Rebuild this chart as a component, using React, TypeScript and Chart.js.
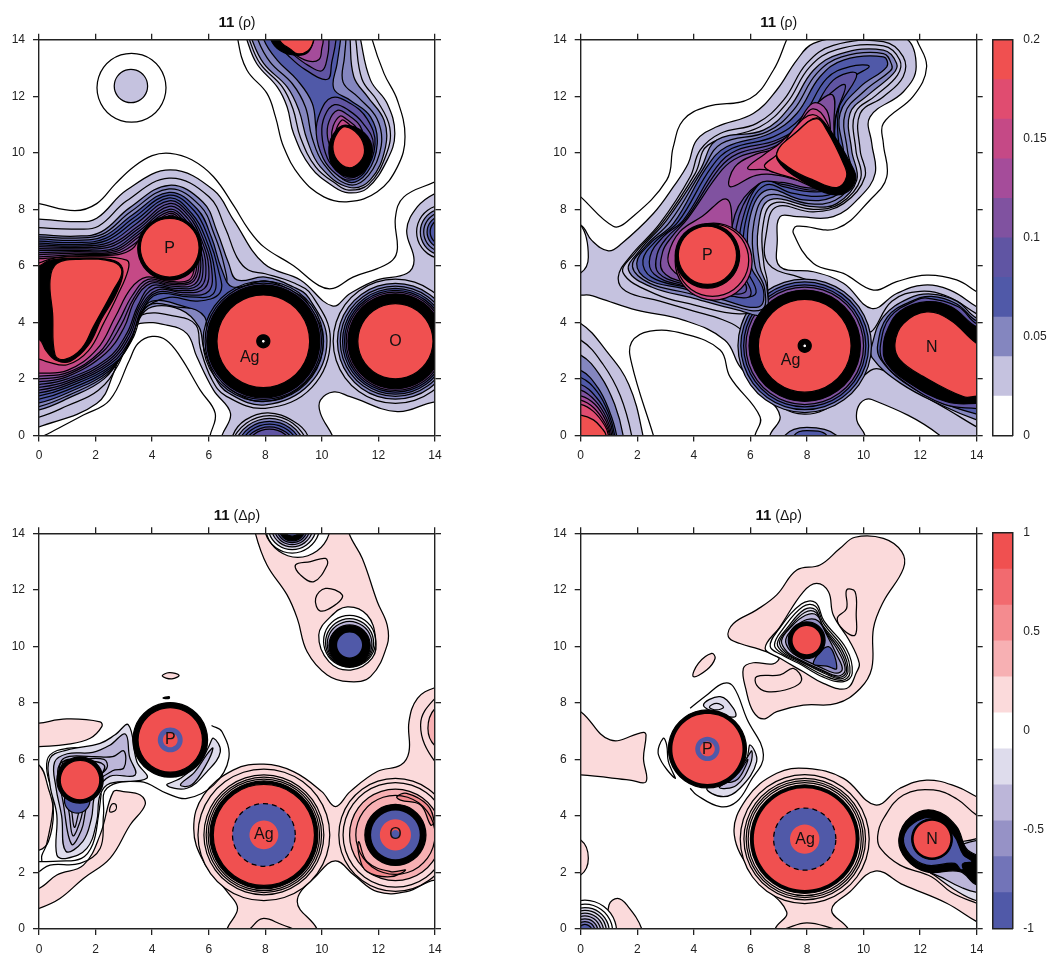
import React, { useEffect, useRef } from "react";
import { Chart, registerables } from "chart.js";
Chart.register(...registerables);

// Tick values and colour-bar bands
const axisTicks = [0, 2, 4, 6, 8, 10, 12, 14];
const rhoEdges = [0, 0.02, 0.04, 0.06, 0.08, 0.1, 0.12, 0.14, 0.16, 0.18, 0.2];
const rhoColors = ["#ffffff", "#c5c2df", "#8486bf", "#5059a8", "#6055a3", "#8052a0", "#a54c9a", "#c54986", "#e04c70", "#f05050"];
const deltaEdges = [-1, -0.818, -0.636, -0.455, -0.273, -0.091, 0.091, 0.273, 0.455, 0.636, 0.818, 1];
const deltaColors = ["#5059a8", "#7274b8", "#9692c6", "#bcb6d9", "#dedcec", "#ffffff", "#fbdadb", "#f7b0b3", "#f48b8f", "#f26a6f", "#f05050"];
const rhoTicks = [0, 0.05, 0.1, 0.15, 0.2];
const deltaTicks = [-1, -0.5, 0, 0.5, 1];

// Palette indexes used by the outlines
const K = 10, N1 = 11, N2 = 12, N3 = 13, N4 = 14, N5 = 15, R1 = 16, R2 = 17, R3 = 18, R5 = 20;
const LINE = -1, OPEN = -2;
const BARE = 0, DASH = 2; // ring stroke modes
const palette = [...rhoColors, "#000000", "#dedcec", "#bcb6d9", "#9692c6", "#7274b8", "#5059a8", "#fbdadb", "#f7b0b3", "#f48b8f", "#f26a6f", "#f05050"];

/* ---------- Panel A: rho, P / Ag / O ---------- */
const aLineTop = [0,8.2, 1.27,7.95, 2.04,8.2, 2.7,8.9, 3.34,9.5, 4,9.9, 4.64,9.98, 5.4,9.75, 6.17,9.15, 6.9,8.1, 7.4,7.3, 7.95,6.67, 9,6, 9.9,5.3, 10.4,5.2, 11.1,5.6, 11.96,5.9, 12.5,6.2, 12.67,6.6, 12.6,7.7, 12.9,8.44, 14,8.97];
const aLineHole = [0.2,0, 1.57,0.72, 2.5,1.25, 3.2,2.67, 3.5,3.25, 4,3.5, 4.5,3.37, 5,2.78, 5.7,1.6, 6.23,0.78, 6.05,0];
const aLilac = [0,7.65, 1.33,7.56, 2.04,7.68, 3.1,8.68, 4.64,9.39, 6.17,8.68, 6.88,7.62, 7.95,6.08, 9.24,5.5, 10.37,4.58, 11,5.02, 11.96,5.5, 13,5.73, 13.26,6.2, 13,7.26, 13.38,8.09, 14,8.56, 14.6,8.7, 14.6,1.1, 14,1.19, 12.67,0.84, 11,1.37, 10.43,1.54, 9.95,1.25, 9.95,0.78, 10.37,0, 10.6,-0.6, 6.3,-0.6, 6.47,0, 6.77,0.78, 6.17,1.6, 5.58,2.78, 5.23,3.6, 4.52,3.9, 3.58,3.96, 3.1,3.6, 2.63,2.19, 2.04,1.13, 0,0.3, -0.6,0.2, -0.6,7.65];
const aRidge1 = [-0.6,7.4, 0,7.35, 1.3,7.3, 2.1,7.4, 3.1,8.3, 4.6,9.1, 6,8.45, 6.6,7.3, 7,6.3, 7.4,5.85, 8,5.72, 9,5.4, 9.65,4.95, 10.3,3.4, 9.65,1.7, 8,0.96, 6.6,1.4, 6.1,2, 5.7,3.1, 5.55,3.9, 4.9,4.2, 3.6,4.25, 3.2,3.5, 2.8,2.5, 2.1,1.6, 1,1.05, 0,0.65, -0.6,0.65];
const aRidge2 = [-0.6,7.1, 0,7.1, 1.3,7.05, 2.2,7.2, 3.2,8.05, 4.6,8.85, 5.8,8.25, 6.3,7.2, 6.7,6.1, 7,5.5, 8,5.6, 9,5.25, 9.55,4.85, 10.18,3.35, 9.55,1.8, 8,1.08, 6.7,1.5, 6.2,2.1, 5.82,3.1, 5.65,3.85, 5,4.45, 4,4.55, 3.5,4.05, 3,3, 2.3,2, 1,1.3, 0,0.9, -0.6,0.9];
const aRidge2b = [-0.6,7.02, 0,7.02, 1.3,6.98, 2.25,7.12, 3.25,7.92, 4.6,8.72, 5.7,8.12, 6.2,7.1, 6.55,6, 6.6,5.25, 6,4.55, 5,4.53, 4,4.65, 3.55,4.18, 3.1,3.15, 2.4,2.15, 1,1.4, 0,1.02, -0.6,1.02];
const aRidge3 = [-0.6,6.95, 0,6.95, 1.3,6.9, 2.3,7.05, 3.3,7.8, 4.6,8.6, 5.6,8, 6.1,7, 6.45,5.9, 6.85,5.25, 8,5.47, 8.95,5.1, 9.45,4.75, 10.05,3.33, 9.45,1.9, 8,1.2, 6.8,1.6, 6.3,2.2, 5.95,3.2, 5.85,4.2, 5,4.6, 4,4.75, 3.6,4.3, 3.2,3.3, 2.5,2.3, 1,1.5, 0,1.15, -0.6,1.15];
const aRidge3b = [-0.6,6.87, 0,6.87, 1.3,6.82, 2.35,6.97, 3.35,7.7, 4.6,8.5, 5.5,7.93, 6,6.97, 6.33,5.9, 6.4,5.05, 5.6,4.75, 4.6,4.88, 3.65,4.4, 3.25,3.35, 2.55,2.4, 1,1.6, 0,1.28, -0.6,1.28];
const aRidge4 = [-0.6,6.8, 0,6.8, 1.3,6.75, 2.4,6.9, 3.4,7.6, 4.6,8.4, 5.4,7.85, 5.9,6.95, 6.2,5.9, 6.15,5, 5.3,4.9, 4.2,5, 3.7,4.5, 3.3,3.4, 2.6,2.5, 1,1.7, 0,1.4, -0.6,1.4];
const aRidge4b = [-0.6,6.74, 0,6.74, 1.3,6.7, 2.45,6.82, 3.45,7.5, 4.6,8.3, 5.35,7.8, 5.82,6.92, 6.1,5.92, 6,5.1, 5.2,4.97, 4.2,5.07, 3.65,4.52, 3.25,3.45, 2.55,2.55, 1,1.78, 0,1.5, -0.6,1.5];
const aRidge5 = [-0.6,6.68, 0,6.68, 1.3,6.65, 2.5,6.75, 3.5,7.4, 4.6,8.2, 5.3,7.75, 5.75,6.9, 6,5.95, 5.85,5.2, 5.1,5.05, 4.2,5.15, 3.6,4.55, 3.2,3.5, 2.5,2.6, 1,1.85, 0,1.6, -0.6,1.6];
const aRidge5b = [-0.6,6.61, 0,6.61, 1.3,6.6, 2.55,6.68, 3.5,7.3, 4.6,8.1, 5.25,7.68, 5.68,6.88, 5.9,5.98, 5.72,5.25, 4.95,5.12, 4.1,5.22, 3.55,4.58, 3.15,3.55, 2.45,2.65, 1,1.92, 0,1.7, -0.6,1.7];
const aRidge6 = [-0.6,6.55, 0,6.55, 1.3,6.55, 2.6,6.6, 3.5,7.2, 4.6,8, 5.2,7.6, 5.6,6.85, 5.8,6, 5.6,5.3, 4.8,5.2, 4,5.3, 3.5,4.6, 3.1,3.6, 2.4,2.7, 1,2, 0,1.8, -0.6,1.8];
const aRidge6b = [-0.6,6.47, 0,6.47, 1.3,6.5, 2.65,6.55, 3.5,7.1, 4.6,7.92, 5.15,7.55, 5.55,6.82, 5.72,6, 5.5,5.35, 4.7,5.28, 3.95,5.38, 3.4,4.8, 3,3.8, 2.35,2.9, 1,2.08, 0,1.9, -0.6,1.9];
const aRidge7 = [-0.6,6.4, 0,6.4, 1.3,6.45, 2.7,6.5, 3.5,7, 4.6,7.85, 5.1,7.5, 5.5,6.8, 5.65,6, 5.4,5.4, 4.6,5.35, 3.9,5.45, 3.35,4.85, 2.9,3.9, 2.25,2.95, 1,2.15, 0,2, -0.6,2];
const aRidge7b = [-0.6,6.32, 0,6.32, 1.3,6.4, 2.75,6.45, 3.4,6.8, 4.6,7.78, 5.05,7.48, 5.45,6.8, 5.58,6, 5.35,5.45, 4.6,5.4, 3.85,5.52, 3.3,4.95, 2.8,4, 2.15,2.95, 1,2.22, 0,2.1, -0.6,2.1];
const aRidge8 = [-0.6,6.25, 0,6.25, 1.3,6.35, 2.8,6.4, 3.3,6.6, 3.6,7, 4.6,7.7, 5,7.45, 5.4,6.8, 5.5,6, 5.3,5.5, 4.6,5.45, 3.8,5.6, 3.25,5.2, 2.7,4.2, 2.05,3.05, 1,2.3, 0,2.2, -0.6,2.2];
const aRidge9 = [-0.6,5.9, 0,6.1, 0.6,6.28, 1.8,6.32, 3.1,6.2, 3.15,5.85, 2.75,4.9, 2.3,4, 1.75,3, 1,2.5, 0.3,2.6, 0,2.7, -0.6,2.7];
const aBlobDark = [-0.6,5.9, 0,6, 0.4,6.2, 1.5,6.27, 2.7,6.17, 2.97,5.8, 2.72,5, 2.2,4.1, 1.75,3.2, 1.1,2.62, 0.6,2.66, 0.25,3, 0,3.4, -0.6,3.4];
const aBlobRed = [0.39,5.5, 0.63,6.08, 1.45,6.23, 2.63,6.14, 2.93,5.79, 2.63,5.14, 1.92,3.84, 1.51,3.08, 0.92,2.69, 0.57,2.84, 0.48,4.32];
const aFunnelLine = [7.03,14.6, 7.03,14, 7.35,12.93, 8.06,12.1, 8.36,11.27, 8.65,10.2, 9.24,9.15, 10.07,8.44, 10.95,8.27, 11.96,8.62, 12.67,9.5, 12.94,10.57, 12.67,11.86, 12.2,12.8, 11.78,14, 11.7,14.6];
const aFunnel1 = [7.2,14.6, 7.35,14, 7.7,13.15, 8.42,12.33, 8.77,11.63, 9,10.68, 9.6,9.5, 10.42,8.8, 10.95,8.58, 11.6,8.74, 12.31,9.74, 12.58,10.68, 12.31,11.74, 11.72,12.57, 11.37,14, 11.3,14.6];
const aFunnel1b = [7.3,14.6, 7.44,14, 7.82,13.15, 8.6,12.33, 8.98,11.55, 9.24,10.55, 9.78,9.5, 10.5,8.9, 10.95,8.68, 11.65,8.88, 12.28,9.95, 12.4,10.9, 11.95,11.85, 11.42,12.6, 11.2,14, 11.15,14.6];
const aFunnel2 = [7.4,14.6, 7.53,14, 7.95,13.15, 8.77,12.33, 9.19,11.5, 9.48,10.45, 9.95,9.5, 10.95,8.78, 11.72,9.05, 12.25,10.2, 12.2,11.15, 11.6,12, 11.13,12.69, 11,14, 11,14.6];
const aFunnel2b = [7.65,14.6, 7.74,14, 8.18,13.2, 8.95,12.45, 9.42,11.62, 9.65,10.55, 10.07,9.6, 10.95,8.87, 11.65,9.2, 12.1,10.25, 11.95,11.2, 11.3,11.95, 10.75,12.5, 10.8,13.4, 10.85,14, 10.85,14.6];
const aFunnel3 = [7.9,14.6, 7.95,14, 8.42,13.28, 9.13,12.57, 9.66,11.75, 9.83,10.68, 10.19,9.74, 10.95,8.96, 11.6,9.3, 11.96,10.33, 11.72,11.27, 11,11.86, 10.42,12.27, 10.54,13.16, 10.66,14, 10.7,14.6];
const aBulb1 = [10.35,11.95, 9.95,11.45, 9.8,10.7, 10.05,9.8, 10.5,9.25, 10.95,9.03, 11.5,9.3, 11.88,10.3, 11.6,11.2, 11,11.75];
const aBulb2 = [10.45,11.7, 10.1,11.3, 10,10.65, 10.2,9.8, 10.6,9.3, 10.95,9.1, 11.45,9.35, 11.82,10.3, 11.45,11.05, 10.95,11.5];
const aBulb3 = [10.55,11.5, 10.25,11.1, 10.2,10.55, 10.4,10, 10.7,9.65, 10.95,9.55, 11.3,9.8, 11.5,10.3, 11.35,10.95, 10.9,11.35];
const aBulb4 = [10.65,11.3, 10.4,10.95, 10.35,10.5, 10.5,10, 10.8,9.7, 10.95,9.65, 11.25,9.85, 11.4,10.3, 11.25,10.85, 10.85,11.2];
const aBulb5 = [10.7,11.15, 10.5,10.8, 10.45,10.4, 10.6,10, 10.95,9.7, 11.25,9.9, 11.35,10.3, 11.2,10.75, 10.85,11.1];
const aBulbDark = [10.84,10.98, 10.47,10.75, 10.25,10.2, 10.4,9.5, 10.95,9.15, 11.5,9.35, 11.78,10.1, 11.5,10.7];
const aBulbRed = [10.84,10.92, 10.55,10.7, 10.39,10.21, 10.54,9.74, 10.95,9.47, 11.35,9.68, 11.51,10.1, 11.31,10.62];
const aTop1 = [8.2,14.6, 8.3,14, 8.8,13.45, 9.4,12.95, 10.2,12.6, 10.35,13.2, 10.5,14, 10.5,14.6];
const aTop2 = [8.3,14.6, 8.4,14, 8.9,13.55, 9.5,13.1, 10,12.9, 10.2,13.4, 10.25,14, 10.2,14.6];
const aTop3 = [8.4,14.6, 8.45,14, 8.95,13.55, 9.5,13.25, 9.9,13.3, 10,13.7, 10.05,14, 10,14.6];
const aTopDark = [8.15,14.6, 8.2,14, 8.55,13.6, 9.1,13.45, 9.5,13.55, 9.72,14, 9.78,14.6];
const aTopRed = [8.45,14.6, 8.5,14, 8.9,13.65, 9.15,13.5, 9.5,13.6, 9.7,13.95, 9.75,14.6];
const aFloor1 = [6.85,-0.6, 6.85,0, 7.3,0.55, 8.1,0.8, 9,0.5, 9.5,0, 9.5,-0.6];
const aFloorRings = [[8.15,-0.7,1.4,LINE],[8.15,-0.7,1.3,2],[8.15,-0.7,1.2,3],[8.15,-0.7,1.1,3],[8.15,-0.7,1,4],[8.15,-0.7,0.92,4]];
const aIslandRings = [[3.27,12.3,1.22,LINE],[3.25,12.36,0.59,1]];
const aEdgeRings = [[14.3,7.2,0.95,LINE],[14.3,7.2,0.82,2],[14.3,7.2,0.7,LINE],[14.3,7.2,0.58,3],[14.3,7.2,0.47,LINE]];
const aAgRings = [[7.93,3.33,2.13,LINE],[7.93,3.33,2.06,4],[7.93,3.33,2,K],[7.93,3.33,1.64,9],[7.93,3.33,0.23,K],[7.93,3.33,0.07,0]];
const aORings = [[12.6,3.33,2.2,LINE],[12.6,3.33,2.05,2],[12.6,3.33,1.95,LINE],[12.6,3.33,1.87,3],[12.6,3.33,1.8,4],[12.6,3.33,1.74,5],[12.6,3.33,1.68,K],[12.6,3.33,1.33,9]];
const aPRings = [[4.62,6.62,1.13,K],[4.62,6.64,1.04,9]];

/* ---------- Panel B: rho, P / Ag / N ---------- */
const bLineLeft = [0,8.44, 1.15,7.4, 1.63,7.56, 3.04,9.03, 3.27,10.2, 3.63,11.16, 4.46,11.63, 5.99,11.92, 6.81,12.92, 7.28,14];
const bLineRight = [11.88,14, 12.23,13.04, 11.76,12, 10.7,11.04, 10.7,10.33, 10.82,9.15, 10.23,8.33, 9.05,7.32, 7.64,7.4, 7.52,7.15, 8.23,6.08, 9.29,5.73, 10.35,5.14, 11.17,5.44, 12.23,5.67, 13.29,5.5, 14,5.08];
const bLineHole = [6.16,0, 6.34,0.66, 5.28,2.07, 4.93,3.02, 3.63,3.6, 2.45,3.69, 1.8,3.3, 1.8,2.55, 2.57,0];
const bLilac = [0,7.44, 0.39,6.9, 0.98,6.53, 1.45,6.79, 2.57,7.85, 3.28,8.8, 3.8,9.62, 4.1,10.45, 4.81,10.92, 6.1,11.39, 6.93,12.22, 7.64,13.28, 8.23,13.87, 9.52,14.1, 11.41,14.1, 11.86,13.04, 11.41,12.16, 10.23,11.27, 10.29,10.33, 10.41,9.27, 9.88,8.44, 8.93,7.74, 7.64,7.74, 7.05,7.74, 6.95,6.91, 7.05,5.97, 8.23,5.79, 9.29,5.38, 10.29,4.49, 11.17,5.02, 12.12,5.32, 13.06,5.14, 14,4.55, 14.6,4.2, 14.6,-0.6, 12.7,-0.6, 12.7,0, 10.29,1.27, 9.88,1.13, 9.76,0.54, 10.05,0, 10.05,-0.6, 6.69,-0.6, 6.69,0, 7.05,0.66, 6.46,1.49, 5.63,2.43, 5.1,3.37, 3.63,4.08, 1.98,4.43, 0.68,4.85, 0.31,4.96, 0,4.96, -0.6,4.96, -0.6,7.44];
const bLens = [0,7.44, 0.27,6.3, 0,5.75, -0.6,5.75, -0.6,7.44];
const bRidge1 = [1.33,5.61, 1.74,6.32, 2.8,7.5, 3.87,9.15, 4.22,10.09, 4.93,10.68, 6.22,11.04, 7.17,11.86, 7.99,13.16, 8.93,13.8, 10.7,13.93, 11.4,13.4, 11.4,12.69, 10.7,11.98, 9.88,11.39, 9.88,10.09, 10.05,9.15, 9.29,8.2, 8.23,7.91, 6.93,8.09, 6.58,7.26, 6.63,6.08, 7.87,5.55, 9.29,5.02, 10.05,4.1, 10.27,3.67, 11,4.75, 12,5.1, 13,4.9, 14,4.3, 14.6,4, 14.6,0, 14,0.3, 13,0.9, 11.7,1.65, 10.7,2.3, 10.25,2.3, 9.3,1.4, 8.6,0.9, 7.9,0.75, 7.2,0.95, 6.6,1.7, 6.1,2.8, 5.7,3.7, 5,4.1, 4,4.4, 2.8,4.75, 1.6,5.1];
const bRidge2 = [1.69,5.85, 2.1,6.56, 3.04,7.62, 4.22,9.39, 4.81,10.45, 6.46,10.8, 7.4,11.63, 8.23,12.92, 9.17,13.5, 10.7,13.63, 11.17,13.16, 11.05,12.8, 10.23,12.1, 9.52,11.39, 9.58,10.09, 9.76,9.03, 9.05,8.2, 8.23,8.09, 6.69,8.33, 6.28,7.38, 6.34,5.97, 6.58,5.26, 6.5,4.3, 5.5,4.45, 4,4.85, 2.5,5.25];
const bRidge2a = [1.5,5.75, 1.92,6.45, 2.92,7.56, 4.05,9.27, 4.5,10.27, 6.34,10.92, 7.28,11.75, 8.1,13.04, 9.05,13.65, 10.7,13.78, 11.28,13.28, 11.2,12.75, 10.45,12.04, 9.7,11.39, 9.73,10.09, 9.9,9.09, 9.17,8.2, 8.23,8, 6.81,8.21, 6.43,7.32, 6.48,6.02, 6.6,5.4, 6.5,4.55, 5.6,4.3, 4,4.62, 2.65,5];
const bRidge2b = [1.83,5.97, 2.28,6.68, 3.16,7.56, 4.34,9.45, 4.98,10.33, 6.58,10.74, 7.52,11.51, 8.34,12.8, 9.23,13.39, 10.7,13.51, 11,13.1, 10.95,12.9, 10.05,12.2, 9.35,11.39, 9.43,10.09, 9.6,9.03, 9,8.32, 8.05,8.2, 6.63,8.5, 6.13,7.56, 6.16,6.02, 6.5,5.2, 6.4,4.45, 5.2,4.63, 3.8,5.03, 2.45,5.38];
const bRidge3 = [1.98,6.08, 2.45,6.79, 3.28,7.5, 4.46,9.5, 5.16,10.21, 6.69,10.68, 7.64,11.39, 8.46,12.69, 9.29,13.28, 10.7,13.39, 10.82,13.04, 9.88,12.33, 9.17,11.39, 9.29,10.09, 9.46,9.03, 8.93,8.44, 7.87,8.33, 6.58,8.68, 5.99,7.74, 5.99,6.08, 6.46,5.14, 6.3,4.55, 5,4.8, 3.6,5.2, 2.4,5.5];
const bRidge3b = [2.2,6.2, 2.68,6.9, 3.45,7.56, 4.63,9.5, 5.34,10.15, 6.81,10.56, 7.82,11.27, 8.7,12.63, 9.52,13.05, 10.2,13.05, 9.5,12.55, 9.1,11.39, 9.17,9.9, 9.3,8.97, 8.75,8.5, 7.52,8.56, 6.52,8.85, 5.87,7.74, 5.8,6.08, 6.2,5.05, 5.6,4.9, 3.7,5.25, 2.5,5.6];
const bRidge4 = [2.45,6.32, 2.92,7.03, 3.63,7.62, 4.81,9.5, 5.52,10.09, 6.93,10.45, 7.99,11.16, 8.93,12.57, 9.76,12.78, 9.05,11.39, 9.05,9.74, 9.17,8.9, 8.34,8.62, 7.17,8.8, 6.46,9.03, 5.75,7.74, 5.63,6.08, 6,4.95, 5,5, 3.6,5.3, 2.6,5.7];
const bRidge4b = [2.7,6.4, 3.05,7, 3.72,7.66, 4.9,9.45, 5.56,9.97, 6.9,10.35, 7.85,11.03, 8.55,11.85, 9.35,12.4, 9,11.2, 9,9.7, 9.08,8.95, 8.27,8.68, 7.13,8.88, 6.38,8.96, 5.6,7.77, 5.5,6.1, 5.85,5.12, 5,5.05, 3.65,5.35, 2.75,5.75];
const bRidge5 = [2.9,6.5, 3.2,7, 3.8,7.7, 5,9.4, 5.6,9.85, 6.9,10.25, 7.7,10.9, 8.2,11.6, 8.9,12.05, 8.95,11, 8.95,9.7, 9,9, 8.2,8.75, 7.1,8.95, 6.3,8.9, 5.45,7.8, 5.4,6.1, 5.7,5.3, 5,5.1, 3.7,5.4, 2.9,5.8];
const bPhalo = [3.1,6.4, 3.5,7.2, 4.3,7.75, 5.15,8.36, 5.35,7.5, 5.25,6.1, 5.4,5.5, 4.7,5.25, 3.8,5.5, 3.2,5.9];
const bUpper6 = [5.28,8.8, 5.45,9.5, 6.2,9.95, 7,10.2, 7.6,10.9, 8.2,11.75, 8.7,11.5, 8.85,10.5, 8.95,9.5, 9,8.95, 8,8.95, 7,9.2, 6.2,9.2];
const bUpper7 = [5.9,9.45, 6.5,9.95, 7,10.3, 7.7,11, 8.2,11.55, 8.7,11.1, 9.1,9.8, 9.2,9, 8.3,8.85, 7.2,9.25, 6.5,9.4];
const bUpper8 = [6.5,9.5, 7,10, 7.5,10.8, 8.2,11.35, 8.75,10.85, 9.3,9.5, 9.3,8.9, 8.8,8.6, 7.5,9.1];
const bUpperDark = [6.93,9.98, 7.64,10.74, 8.34,11.23, 8.78,10.85, 9.55,9.6, 9.72,9.05, 9.3,8.55, 8.6,8.6, 7.6,9.15, 7.1,9.55];
const bUpperRed = [6.93,9.98, 7.64,10.74, 8.34,11.21, 8.7,10.8, 9.29,9.62, 9.4,9.15, 9.05,8.77, 8.23,9.03, 7.4,9.45];
const bN1 = [14.6,4.1, 14.6,0.4, 14,0.55, 12.8,1.05, 11.3,1.85, 10.3,2.75, 10.3,3.2, 10.7,4.2, 11.6,4.85, 12.4,5, 13.3,4.75, 14,4.15];
const bN2 = [14.6,4, 14.6,0.6, 14,0.75, 12.8,1.15, 11.4,1.9, 10.6,2.7, 10.5,3.2, 10.85,4.2, 11.7,4.75, 12.4,4.92, 13.3,4.65, 14,4.05];
const bN3 = [14.6,3.9, 14.6,0.9, 14,0.95, 12.85,1.1, 11.5,1.85, 10.7,2.6, 10.6,3.2, 10.95,4.2, 11.9,4.8, 12.3,4.85, 13.35,4.55, 14,3.95];
const bNDark = [14.6,3.8, 14.6,1.2, 14,1.13, 12.94,1.19, 11.64,1.84, 10.82,2.55, 10.7,3.14, 10.85,3.75, 11.3,4.4, 12.23,4.73, 13.1,4.55, 14,3.84];
const bNRed = [14.6,3, 14.6,1.4, 14,1.39, 13.53,1.37, 12.12,2.08, 11.29,2.67, 11.11,3.25, 11.41,3.96, 12.23,4.37, 13.06,4.08, 14,3.25];
const bCorner1 = [-0.6,3.96, 0,3.96, 0.9,3, 1.7,1.8, 2.2,0, 2.2,-0.6, -0.6,-0.6];
const bCorner2 = [-0.6,3.37, 0,3.37, 0.8,2.5, 1.4,1.4, 1.8,0, 1.8,-0.6, -0.6,-0.6];
const bCorner3 = [-0.6,2.84, 0,2.84, 0.7,2.1, 1.2,1.1, 1.5,0, 1.5,-0.6, -0.6,-0.6];
const bCorner4 = [-0.6,2.3, 0,2.3, 0.6,1.7, 1,0.9, 1.27,0, 1.27,-0.6, -0.6,-0.6];
const bCorner4b = [-0.6,2.05, 0,2.05, 0.58,1.55, 0.98,0.8, 1.2,0, 1.2,-0.6, -0.6,-0.6];
const bCorner5 = [-0.6,1.8, 0,1.8, 0.55,1.35, 0.95,0.7, 1.15,0, 1.15,-0.6, -0.6,-0.6];
const bCorner5b = [-0.6,1.6, 0,1.6, 0.52,1.22, 0.92,0.6, 1.1,0, 1.1,-0.6, -0.6,-0.6];
const bCorner6 = [-0.6,1.4, 0,1.4, 0.5,1.1, 0.9,0.5, 1.05,0, 1.05,-0.6, -0.6,-0.6];
const bCorner6b = [-0.6,1.25, 0,1.25, 0.47,0.97, 0.87,0.42, 1.02,0, 1.02,-0.6, -0.6,-0.6];
const bCorner7 = [-0.6,1.1, 0,1.1, 0.45,0.85, 0.85,0.35, 0.98,0, 0.98,-0.6, -0.6,-0.6];
const bCornerRed = [-0.6,0.72, 0,0.72, 0.45,0.55, 0.75,0.25, 0.9,0, 0.9,-0.6, -0.6,-0.6];
const bFloor1 = [7.22,-0.6, 7.22,0, 8,0.28, 9.05,0, 9.05,-0.6];
const bFloor2 = [7.55,-0.6, 7.55,0, 8,0.17, 8.7,0, 8.7,-0.6];
const bAgBack = [[7.92,3.17,2.36,2],[7.92,3.17,2.26,3],[7.92,3.17,2.16,4],[7.92,3.17,2.08,5]];
const bAgFront = [[7.92,3.17,1.97,K],[7.92,3.17,1.64,9],[7.92,3.17,0.23,K],[7.92,3.17,0.07,0]];
const bPRings = [[4.7,6.15,1.36,7],[4.66,6.2,1.28,8],[4.48,6.35,1.14,K],[4.48,6.37,1.03,9]];

/* ---------- Panel C: delta rho, P / Ag / O ---------- */
const cPinkTop = [7.6,14.6, 7.65,14, 8.06,12.88, 8.77,11.82, 9.13,10.99, 9.48,9.81, 10.19,8.99, 10.96,8.75, 11.72,8.93, 12.31,10.05, 12.31,10.75, 11.96,11.58, 11.43,13.11, 10.96,14, 10.9,14.6];
const cIsland1 = [9.07,12.88, 9.6,13, 10.13,13.11, 10.19,12.88, 9.72,12.29, 9.25,12.52];
const cIsland2 = [9.78,11.7, 10.13,12.05, 10.72,11.82, 10.54,11.52, 9.95,11.25];
const cBulbWhite = [9.89,10.4, 10.31,11.05, 10.9,11.4, 11.6,11.11, 11.9,10.28, 11.78,9.58, 11.02,9.16, 10.25,9.46];
const cPinkLeftTop = [-0.6,7.2, 0,7.28, 0.98,7.43, 2.16,7.33, 2.22,7.16, 1.81,6.75, 0.98,6.53, 0,6.45, -0.6,6.4];
const cPinkLeftLens = [-0.6,5.8, 0,5.8, 0.33,4.98, 0.51,4.15, 0.33,3.09, 0,2.79, -0.6,2.79];
const cPinkLower = [-0.6,0.6, 0,0.73, 0.74,1.08, 1.57,1.79, 2.51,2.5, 3.22,3.68, 3.75,4.39, 3.58,4.74, 2.99,4.86, 2.63,4.86, 2.16,3.33, 1.57,2.26, 0.63,1.91, 0,1.44, -0.6,1.44];
const cLineCell = [0,2.03, 0.39,2.26, 1.45,2.32, 2.16,2.85, 2.28,4.03, 2.4,4.98, 3.58,5.21, 4.52,4.8, 5.23,4.62, 6.17,5.09, 6.71,6.04, 6.47,6.98, 6.1,7.2];
const cLineCellTop = [3.16,7.22, 2.63,6.75, 2.04,6.45, 0.98,6.39, 0.39,6.16, 0.27,5.68, 0.5,4.5, 0.27,3, 0.1,2.6, 0.1,2.4];
const cLineLow = [0,2.38, 0.7,2.4, 1.5,2.5, 1.9,3, 2.1,4, 2.2,4.8];
const cLav1 = [0.63,2.62, 0.98,2.5, 1.69,2.85, 2.04,3.8, 2.16,4.74, 2.51,5.15, 3.81,5.33, 3.46,5.92, 3.16,7.22, 2.69,6.87, 2.16,6.57, 0.98,6.33, 0.39,6.04, 0.39,5.09, 0.63,4.03];
const cLav2 = [0.95,2.75, 1.55,3.1, 1.85,3.9, 2,4.8, 2.5,5.4, 3.4,5.45, 3.2,6.1, 3.05,6.9, 2.5,6.5, 1.9,6.25, 1,6.2, 0.55,5.9, 0.6,5, 0.8,4];
const cLav3 = [1.15,3, 1.5,3.5, 1.65,4.2, 1.85,5, 2.6,5.6, 3,5.7, 3,6.3, 2.6,6.1, 1.9,6.1, 0.9,6.05, 0.7,5.5, 0.85,4.5];
const cLav4 = [1.2,3.3, 1.45,3.8, 1.6,4.4, 1.9,5.2, 2.4,5.7, 2.3,6, 1.5,6, 0.85,5.9, 0.85,5, 1.05,4.2];
const cLav5 = [1.25,3.6, 1.4,4.1, 1.55,4.6, 2.1,5.3, 2.3,5.8, 1.5,5.95, 0.75,5.85, 0.75,5, 1.1,4.4];
const cCrescent1 = [4.52,5.09, 5.23,4.98, 5.94,5.57, 6.41,6.27, 6.17,6.75, 6,6.45, 5.7,5.92, 5,5.33];
const cCrescent2 = [5,5.1, 5.4,5.1, 5.9,5.8, 6.15,6.4, 5.95,6.2, 5.5,5.55];
const cPinkBig = [6.6,-0.6, 6.65,0, 7.02,0.73, 6.65,1.32, 5.82,2.38, 5.47,3.56, 5.82,4.74, 6.88,5.63, 7.95,5.83, 9,5.57, 10,4.86, 10.48,4.33, 11,4.86, 11.96,5.57, 12.79,5.8, 13.08,6.27, 13.08,7.33, 13.38,8.16, 14,8.54, 14.6,8.6, 14.6,1.5, 14,1.73, 13,1.32, 11.96,1.32, 11.13,1.91, 10.48,2.41, 9.83,1.91, 9.13,0.97, 9.83,0, 9.9,-0.6];
const cFloorLine = [7.45,0, 7.9,0.37, 8.6,0.15, 9,0];
const cEdge1 = [14.6,8.4, 14,8.16, 13.49,7.22, 14,5.92, 14.6,5.7];
const cEdge2 = [14.6,8, 14,7.8, 13.75,7.1, 14,6.48, 14.6,6.3];
const cCrescentUp = [12.65,4.68, 13,4.8, 13.73,4.39, 13.97,3.8, 13.85,3.68, 13.49,4.39, 12.78,4.56];
const cCrescentLow = [11.31,3.09, 11.6,2.38, 12.43,2.03, 12.96,2.09, 12.43,1.85, 11.6,2.03, 11.31,2.62];
const cTinyOval = [4.36,8.95, 4.6,9.07, 4.95,8.98, 4.7,8.85];
const cTinyDash = [4.38,8.17, 4.6,8.22, 4.6,8.16];
const cTinyHole = [2.5,4.15, 2.58,4.42, 2.72,4.4, 2.7,4.2];
const cTopRings = [[9.15,14.3,1.15,0],[8.95,14.28,0.98,LINE],[8.95,14.28,0.86,N1],[8.95,14.26,0.74,N2],[8.95,14.24,0.64,N3],[8.95,14.22,0.55,N4],[8.95,14.2,0.47,K],[8.95,14.2,0.3,N5]];
const cBulbRings = [[10.98,10.18,0.92,LINE],[10.98,10.13,0.85,N1],[10.98,10.09,0.79,N2],[10.98,10.03,0.73,K],[10.98,10.05,0.44,N5,BARE]];
const cBlobRings = [[1.35,4.55,0.45,N5],[1.45,5.27,0.82,K],[1.45,5.27,0.7,R5]];
const cPRings = [[4.64,6.69,1.32,K],[4.64,6.69,1.14,R5],[4.64,6.69,0.44,N5,BARE],[4.64,6.69,0.26,R5,BARE]];
const cAgRings = [[7.95,3.33,2.33,R1],[7.95,3.33,2.12,LINE],[7.95,3.33,2.04,LINE],[7.95,3.33,1.97,LINE],[7.95,3.33,1.91,K],[7.95,3.33,1.79,R5],[7.95,3.33,1.11,N5,DASH],[7.95,3.33,0.51,R5,BARE]];
const cORingsBack = [[12.6,3.33,2.0,LINE],[12.6,3.33,1.85,LINE],[12.6,3.33,1.62,R2]];
const cORingsFront = [[12.6,3.33,1.4,LINE],[12.6,3.33,1.08,K],[12.6,3.33,0.86,N5,BARE],[12.6,3.33,0.55,R5,BARE],[12.6,3.35,0.15,N5,BARE]];

/* ---------- Panel D: delta rho, P / Ag / N ---------- */
const dPinkTop = [9.7,13.86, 10.7,13.82, 11.35,13.35, 11.41,12.76, 10.7,11.58, 10.35,10.64, 10.29,9.22, 9.88,8.51, 9.05,7.98, 7.87,7.92, 6.93,7.69, 6.46,7.43, 6.1,7.69, 5.86,8.4, 5.75,9.22, 6.1,9.42, 6.8,9.38, 7,9.6, 6.3,9.9, 5.63,10.1, 5.22,10.34, 5.4,10.81, 6.22,11.29, 6.93,11.82, 7.64,12.7, 8.46,12.88, 9.17,13.47];
const dCore = [6.52,9.93, 7.05,10.7, 7.87,11.93, 8.34,12.23, 8.76,11.93, 8.93,11.11, 9.5,10.2, 9.85,9.4, 9.76,9.1, 9.4,8.51, 8.58,8.69, 7.87,9.1, 7.05,9.58];
const dCore1 = [6.7,10, 7,10.6, 7.8,11.5, 8.3,11.55, 8.6,10.9, 9.4,9.9, 9.6,9.05, 9.3,8.75, 8.6,8.9, 7.7,9.4, 7.1,9.7];
const dCore1b = [6.85,10.05, 7.15,10.62, 7.85,11.4, 8.3,11.42, 8.58,10.82, 9.32,9.87, 9.52,9.07, 9.25,8.8, 8.6,8.97, 7.7,9.45, 7.15,9.72];
const dCore2 = [6.95,10.1, 7.3,10.65, 7.9,11.3, 8.3,11.3, 8.55,10.75, 9.25,9.85, 9.45,9.1, 9.2,8.85, 8.6,9.05, 7.7,9.5, 7.2,9.75];
const dCore2b = [7.03,10.15, 7.38,10.67, 7.92,11.2, 8.32,11.2, 8.57,10.67, 9.2,9.8, 9.4,9.12, 9.15,8.9, 8.58,9.1, 7.7,9.52, 7.25,9.78];
const dCore3 = [7.1,10.2, 7.45,10.7, 7.95,11.1, 8.35,11.1, 8.6,10.6, 9.15,9.75, 9.35,9.15, 9.1,8.95, 8.55,9.15, 7.7,9.55, 7.3,9.8];
const dCore4 = [7.25,10.25, 7.6,10.7, 8,10.95, 8.4,10.9, 8.7,10.4, 9.05,9.7, 9.25,9.2, 9.05,9.05, 8.5,9.25, 7.75,9.6, 7.4,9.85];
const dTri = [8.22,9.4, 8.76,9.99, 9.05,9.22, 8.7,9.3];
const dIsland1 = [6.22,8.93, 7.05,8.99, 7.52,9.22, 7.81,8.81, 7.4,8.51, 6.58,8.4, 6.22,8.63];
const dIsland2 = [9.4,11.99, 9.7,11.93, 9.74,11.11, 9.7,10.4, 9.29,10.58, 9.07,10.99, 9.4,11.34];
const dOval = [3.98,8.93, 4.16,9.4, 4.63,9.75, 4.75,9.57, 4.45,9.16];
const dLineP = [3.87,7.81, 4.46,8.28, 5.04,8.69, 5.4,8.57, 5.87,7.45, 6.46,6.16, 5.99,5.21, 5.51,4.5, 4.93,4.33, 4.1,4.74, 3.87,4.98];
const dLavTop = [4.34,7.92, 4.93,8.22, 5.4,7.81, 5.46,7.51, 4.9,7.6];
const dOvalTop = [4.55,7.85, 4.8,7.98, 5.05,7.85, 4.8,7.75];
const dCres1 = [4.46,4.98, 5.04,4.68, 5.63,4.98, 6.22,5.92, 5.99,6.51, 5.87,6.04, 5.4,5.33];
const dCres2 = [4.9,5, 5.51,5.09, 5.99,5.8, 6.05,6.3, 5.87,6.04, 5.34,5.33];
const dCres3 = [5.2,5.2, 5.55,5.3, 5.85,5.8, 5.9,6, 5.6,5.55];
const dLeftCres = [2.92,6.75, 2.75,6.16, 3.34,5.33, 3.1,5.92, 3.04,6.51];
const dPinkLeft = [-0.6,7.9, 0,7.69, 1.04,6.69, 2.22,6.96, 2.31,6.86, 2.22,6.04, 2.31,5.21, 1.74,5.27, 0,5.45, -0.6,5.45];
const dPinkEdge = [-0.6,3.15, 0,3.15, 0.27,2.5, 0,1.91, -0.6,1.91];
const dPinkFoot = [0.98,-0.6, 0.98,0, 1,0.85, 1.3,1.08, 1.63,0.85, 2.16,0, 2.16,-0.6];
const dPinkBig = [6.8,-0.6, 6.87,0, 7.28,0.61, 6.22,1.79, 5.43,3.33, 5.87,4.62, 6.93,5.51, 7.99,5.68, 9.29,5.33, 10.41,4.39, 11.29,4.98, 12.23,5.27, 13.29,5.04, 14,4.68, 14.6,4.4, 14.6,0, 14,0.26, 12.94,0.91, 11.41,1.56, 10.41,2.05, 9.52,1.32, 8.87,0.67, 9.46,0, 9.55,-0.6];
const dFloorLine = [7.2,0, 8,0.22, 9,0];
const dNLine = [14.6,3.8, 14,4.03, 13.3,4.6, 12.47,4.92, 11.41,4.74, 10.7,3.9, 10.5,3.3, 10.6,2.85, 11.29,2.26, 12.4,1.85, 13.1,1.3, 14,0.91, 14.6,0.7];
const dTail = [14.6,3.5, 14,3.2, 13,3, 11.6,2.5, 12.5,1.9, 13.2,1.4, 14,1, 14.6,1];
const dTail2 = [14.6,3, 13.5,3, 12.2,2.2, 12.9,1.75, 13.5,1.45, 14,1.3, 14.6,1.3];
const dNDark = [11.25,3.21, 11.68,3.98, 12.47,4.2, 13.27,3.65, 13.63,2.85, 14,2.62, 14.6,2.5, 14.6,1.6, 14,1.56, 13.41,2.03, 12.23,2.02, 11.5,2.48];
const dNBlue = [11.41,3.21, 11.76,3.74, 12.42,3.92, 13.18,3.33, 13.53,2.62, 13.83,2.38, 13.47,2.09, 13.23,2.32, 12.23,2.26, 11.64,2.62];
const dCornerDark = [14.6,2.3, 14.6,1.3, 14,1.6, 13.7,1.85, 13.5,2.3, 14,2.35];
const dRedRings = [[7.99,10.22,0.65,K],[7.99,10.22,0.5,R5,BARE]];
const dPRings = [[4.48,6.37,1.38,K],[4.48,6.37,1.24,R5,BARE],[4.48,6.37,0.43,N5,BARE],[4.48,6.37,0.26,R5,BARE]];
const dAgRings = [[7.92,3.18,2.28,R1],[7.92,3.18,2.15,LINE],[7.92,3.18,2.07,LINE],[7.92,3.18,2,LINE],[7.92,3.18,1.92,K],[7.92,3.18,1.8,R5,BARE],[7.92,3.18,1.1,N5,DASH],[7.92,3.18,0.52,R5,BARE]];
const dCornerRings = [[0.15,-0.1,1.12,0],[0.15,-0.1,0.98,LINE],[0.15,-0.1,0.86,N1],[0.15,-0.1,0.76,N1],[0.15,-0.1,0.66,N2],[0.15,-0.1,0.56,N2],[0.15,-0.1,0.46,N3],[0.15,-0.1,0.36,N4],[0.15,-0.1,0.26,N5]];
const dNRings = [[12.42,3.18,0.72,K],[12.42,3.18,0.65,R5,BARE]];

type Shape = [number[], number];
type Ring = number[];
type Item = Shape | Ring[];

const panelA: Item[] = [
  [aLilac, 1], [aLineTop, OPEN], [aLineHole, OPEN], [aRidge1, LINE], [aRidge2, 2], [aRidge2b, LINE], [aRidge3, 3], [aFloor1, 1],
  aFloorRings, aEdgeRings, aIslandRings, aAgRings, aORings,
  [aRidge3b, LINE], [aRidge4, LINE], [aRidge4b, 4], [aRidge5, LINE], [aRidge5b, 4], [aRidge6, LINE], [aRidge6b, 5], [aRidge7, 5], [aRidge7b, 6], [aRidge8, 7], [aRidge9, 8], [aBlobDark, K], [aBlobRed, 9],
  aPRings,
  [aFunnelLine, OPEN], [aFunnel1, 1], [aFunnel1b, LINE], [aFunnel2, 2], [aFunnel2b, LINE], [aFunnel3, 3],
  [aBulb1, 4], [aBulb2, 4], [aBulb3, 5], [aBulb4, 6], [aBulb5, 7], [aBulbDark, K], [aBulbRed, 9],
  [aTop1, 4], [aTop2, 5], [aTop3, 6], [aTopDark, K], [aTopRed, 9],
];
const panelB: Item[] = [
  [bLilac, 1], [bLens, 0], [bLineLeft, OPEN], [bLineRight, OPEN], [bLineHole, OPEN],
  [bCorner1, 1], [bCorner2, LINE], [bCorner3, 2], [bCorner4, 3], [bCorner4b, 3], [bCorner5, 4], [bCorner5b, 5], [bCorner6, 6], [bCorner6b, 7], [bCorner7, 8], [bCornerRed, 9],
  [bRidge1, LINE], [bFloor1, 2], [bFloor2, 3], [bN1, 2], [bN2, 3], [bN3, 4], [bNDark, K], [bNRed, 9],
  bAgBack, [bRidge2a, LINE], [bRidge2, 2], [bRidge2b, LINE], [bRidge3, 3], [bRidge3b, LINE], [bRidge4, 4], [bRidge4b, LINE], [bRidge5, 5], [bPhalo, 6],
  [bUpper6, 6], [bUpper7, 7], [bUpper8, 8], [bUpperDark, K], [bUpperRed, 9],
  bPRings, bAgFront,
];
const panelC: Item[] = [
  [cPinkTop, R1], [cIsland1, LINE], [cIsland2, LINE], [cBulbWhite, 0], [cTinyOval, R1], [cTinyDash, K],
  [cPinkLeftTop, R1], [cPinkLeftLens, R1], [cPinkLower, R1], [cTinyHole, LINE], [cPinkBig, R1], [cFloorLine, OPEN], [cEdge1, LINE], [cEdge2, R2],
  cORingsBack, [cCrescentUp, R3], [cCrescentLow, R3], cORingsFront,
  [cLineCell, OPEN], [cLineCellTop, OPEN], [cLineLow, OPEN],
  [cLav1, N1], [cLav2, N2], [cLav3, LINE], [cLav4, N2], [cLav5, LINE], [cCrescent1, N1], [cCrescent2, N2],
  cTopRings, cBulbRings, cBlobRings, cPRings, cAgRings,
];
const panelD: Item[] = [
  [dPinkTop, R1], [dIsland1, LINE], [dIsland2, LINE], [dCore, 0], [dCore1, LINE], [dCore1b, LINE], [dCore2, N1], [dCore2b, LINE], [dCore3, N2], [dCore4, N3], [dTri, N5],
  [dOval, R1], [dLineP, OPEN], [dLavTop, N1], [dOvalTop, LINE], [dCres1, N1], [dCres2, N2], [dCres3, N3], [dLeftCres, LINE],
  [dPinkLeft, R1], [dPinkEdge, R1], [dPinkFoot, R1], [dPinkBig, R1], [dFloorLine, OPEN], [dNLine, LINE],
  [dTail, N1], [dTail2, N2], [dNDark, K], [dNBlue, N5], [dCornerDark, K],
  dRedRings, dPRings, dAgRings, dCornerRings, dNRings,
];

const atomsA: [string, number, number][] = [["P", 4.62, 6.62], ["Ag", 7.45, 2.77], ["O", 12.6, 3.32]];
const atomsB: [string, number, number][] = [["P", 4.48, 6.36], ["Ag", 7.42, 2.66], ["N", 12.41, 3.12]];
const atomsC: [string, number, number][] = [["P", 4.64, 6.69], ["Ag", 7.95, 3.33], ["O", 12.6, 3.33]];
const atomsD: [string, number, number][] = [["P", 4.48, 6.36], ["Ag", 7.93, 3.18], ["N", 12.42, 3.17]];

const FONT = '"Liberation Sans", Arial, sans-serif';
const INK = "#222222";

function pairs(flat: number[]) {
  const out: { x: number; y: number }[] = [];
  for (let i = 0; i < flat.length; i += 2) out.push({ x: flat[i], y: flat[i + 1] });
  return out;
}
function ringPoints(cx: number, cy: number, r: number) {
  const out: { x: number; y: number }[] = [];
  for (let i = 0; i < 20; i++) {
    const t = (i / 20) * Math.PI * 2;
    out.push({ x: cx + r * Math.cos(t), y: cy + r * Math.sin(t) });
  }
  return out;
}
function dataset(points: { x: number; y: number }[], lvl: number, closed: boolean, tension: number, mode = 1) {
  const filled = lvl >= 0;
  return {
    data: points,
    closedLoop: closed,
    showLine: true,
    pointRadius: 0,
    pointHitRadius: 0,
    borderColor: mode === BARE ? "rgba(0,0,0,0)" : "#000000",
    borderWidth: mode === BARE ? 0 : 1.25,
    borderDash: mode === DASH ? [5, 4] : [],
    tension,
    capBezierPoints: false,
    backgroundColor: filled ? palette[lvl] : "rgba(0,0,0,0)",
    fill: filled ? "shape" : false,
    borderJoinStyle: "round",
  };
}
function buildDatasets(panel: Item[]) {
  const list: any[] = [];
  for (const item of panel) {
    if (typeof item[1] === "number") {
      const [flat, lvl] = item as Shape;
      list.push(dataset(pairs(flat), lvl, lvl !== OPEN, 0.4));
    } else {
      for (const r of item as Ring[]) list.push(dataset(ringPoints(r[0], r[1], r[2]), r[3], true, 0.34, r.length > 4 ? r[4] : 1));
    }
  }
  return list.reverse();
}
// Makes the closed outlines smooth all the way round, as the radar controller does.
const loopPlugin = {
  id: "closedLoops",
  afterDatasetsUpdate(c: any) {
    c.data.datasets.forEach((ds: any, i: number) => {
      if (!ds.closedLoop) return;
      const line = c.getDatasetMeta(i).dataset;
      if (!line) return;
      line._loop = true;
      line._fullLoop = true;
      line._pointsUpdated = false;
      line._segments = undefined;
      line._path = undefined;
    });
  },
};

function ContourPanel({ left, top, shapes, atoms, sub, gutterLeft, gutterTop }: any) {
  const ref = useRef<HTMLCanvasElement>(null);
  useEffect(() => {
    const W = 450, H = 470, AW = 396, AH = 395.7;
    const axisBase = {
      type: "linear",
      min: 0,
      max: 14,
      afterBuildTicks: (s: any) => { s.ticks = axisTicks.map((v) => ({ value: v })); },
    };
    const grid = { drawOnChartArea: false, drawTicks: true, tickLength: 6, tickColor: INK, lineWidth: 1.3, z: 1 };
    const border = { color: INK, width: 1.4, z: 2 };
    const labelsPlugin = {
      id: "panelText",
      afterDraw(c: any) {
        const { ctx, scales, chartArea } = c;
        ctx.save();
        ctx.fillStyle = "#111111";
        ctx.textAlign = "center";
        ctx.textBaseline = "middle";
        ctx.font = `16px ${FONT}`;
        for (const [t, x, y] of atoms) ctx.fillText(t, scales.x.getPixelForValue(x), scales.y.getPixelForValue(y));
        ctx.textBaseline = "alphabetic";
        const mid = (chartArea.left + chartArea.right) / 2;
        ctx.font = `bold 15px ${FONT}`;
        const a = ctx.measureText("11").width;
        ctx.font = `14px ${FONT}`;
        const b = ctx.measureText(" " + sub).width;
        const start = mid - (a + b) / 2;
        ctx.textAlign = "left";
        ctx.font = `bold 15px ${FONT}`;
        ctx.fillText("11", start, chartArea.top - 13);
        ctx.font = `14px ${FONT}`;
        ctx.fillText(" " + sub, start + a, chartArea.top - 13);
        ctx.restore();
      },
    };
    const chart = new Chart(ref.current as any, {
      type: "scatter",
      data: { datasets: buildDatasets(shapes) },
      plugins: [loopPlugin, labelsPlugin],
      options: {
        animation: false,
        responsive: false,
        events: [],
        layout: { autoPadding: false, padding: 0 },
        plugins: { legend: { display: false }, tooltip: { enabled: false }, title: { display: false } },
        scales: {
          x: {
            ...axisBase, position: "bottom", grid, border,
            ticks: { color: INK, font: { family: FONT, size: 12 }, padding: 7, maxRotation: 0, autoSkip: false, callback: (v: any) => String(v) },
            afterFit: (s: any) => { s.height = H - gutterTop - AH; },
          },
          x2: {
            ...axisBase, position: "top", grid, border, ticks: { display: false },
            afterFit: (s: any) => { s.height = gutterTop; },
          },
          y: {
            ...axisBase, position: "left", grid, border,
            ticks: { color: INK, font: { family: FONT, size: 12 }, padding: 8, autoSkip: false, callback: (v: any) => String(v) },
            afterFit: (s: any) => { s.width = gutterLeft; },
          },
          y2: {
            ...axisBase, position: "right", grid, border, ticks: { display: false },
            afterFit: (s: any) => { s.width = W - gutterLeft - AW; },
          },
        },
      } as any,
    } as any);
    return () => chart.destroy();
  }, []);
  return <canvas ref={ref} width={450} height={470} style={{ position: "absolute", left, top, width: 450, height: 470 }} />;
}

function ColorBar({ left, top, edges, colors, ticks }: any) {
  const ref = useRef<HTMLCanvasElement>(null);
  useEffect(() => {
    const W = 64, H = 470, AH = 395.7;
    const min = edges[0], max = edges[edges.length - 1];
    const border = { color: INK, width: 1.5, z: 2 };
    const chart = new Chart(ref.current as any, {
      type: "bar",
      data: {
        labels: ["band"],
        datasets: colors.map((c: string, i: number) => ({
          data: [[edges[i], edges[i + 1]]],
          backgroundColor: c,
          borderWidth: 0,
          barPercentage: 1,
          categoryPercentage: 1,
          grouped: false,
        })),
      },
      options: {
        animation: false,
        responsive: false,
        events: [],
        layout: { autoPadding: false, padding: 0 },
        plugins: { legend: { display: false }, tooltip: { enabled: false } },
        scales: {
          x: {
            position: "bottom", border, grid: { display: false }, ticks: { display: false },
            afterFit: (s: any) => { s.height = H - 40 - AH; },
          },
          xTop: {
            type: "category", labels: ["band"], position: "top", border, grid: { display: false }, ticks: { display: false },
            afterFit: (s: any) => { s.height = 40; },
          },
          yLeft: {
            type: "linear", min, max, position: "left", border, grid: { display: false }, ticks: { display: false },
            afterFit: (s: any) => { s.width = 8; },
          },
          y: {
            type: "linear", min, max, position: "right", border, grid: { display: false, drawTicks: false },
            afterBuildTicks: (s: any) => { s.ticks = ticks.map((v: number) => ({ value: v })); },
            ticks: { color: INK, font: { family: FONT, size: 12 }, padding: 11, callback: (v: any) => String(v) },
            afterFit: (s: any) => { s.width = W - 8 - 19.3; },
          },
        },
      } as any,
    } as any);
    return () => chart.destroy();
  }, []);
  return <canvas ref={ref} width={64} height={470} style={{ position: "absolute", left, top, width: 64, height: 470 }} />;
}

export default function App() {
  return (
    <div style={{ position: "absolute", left: 0, top: 0, width: 1049, height: 954, overflow: "hidden", background: "#fff" }}>
      <ContourPanel left={0} top={0} shapes={panelA} atoms={atomsA} sub="(ρ)" gutterLeft={39} gutterTop={39.7} />
      <ContourPanel left={542} top={0} shapes={panelB} atoms={atomsB} sub="(ρ)" gutterLeft={38.7} gutterTop={39.7} />
      <ContourPanel left={0} top={493} shapes={panelC} atoms={atomsC} sub="(Δρ)" gutterLeft={39} gutterTop={40.3} />
      <ContourPanel left={542} top={493} shapes={panelD} atoms={atomsD} sub="(Δρ)" gutterLeft={38.7} gutterTop={40.3} />
      <ColorBar left={985} top={0} edges={rhoEdges} colors={rhoColors} ticks={rhoTicks} />
      <ColorBar left={985} top={493} edges={deltaEdges} colors={deltaColors} ticks={deltaTicks} />
    </div>
  );
}
